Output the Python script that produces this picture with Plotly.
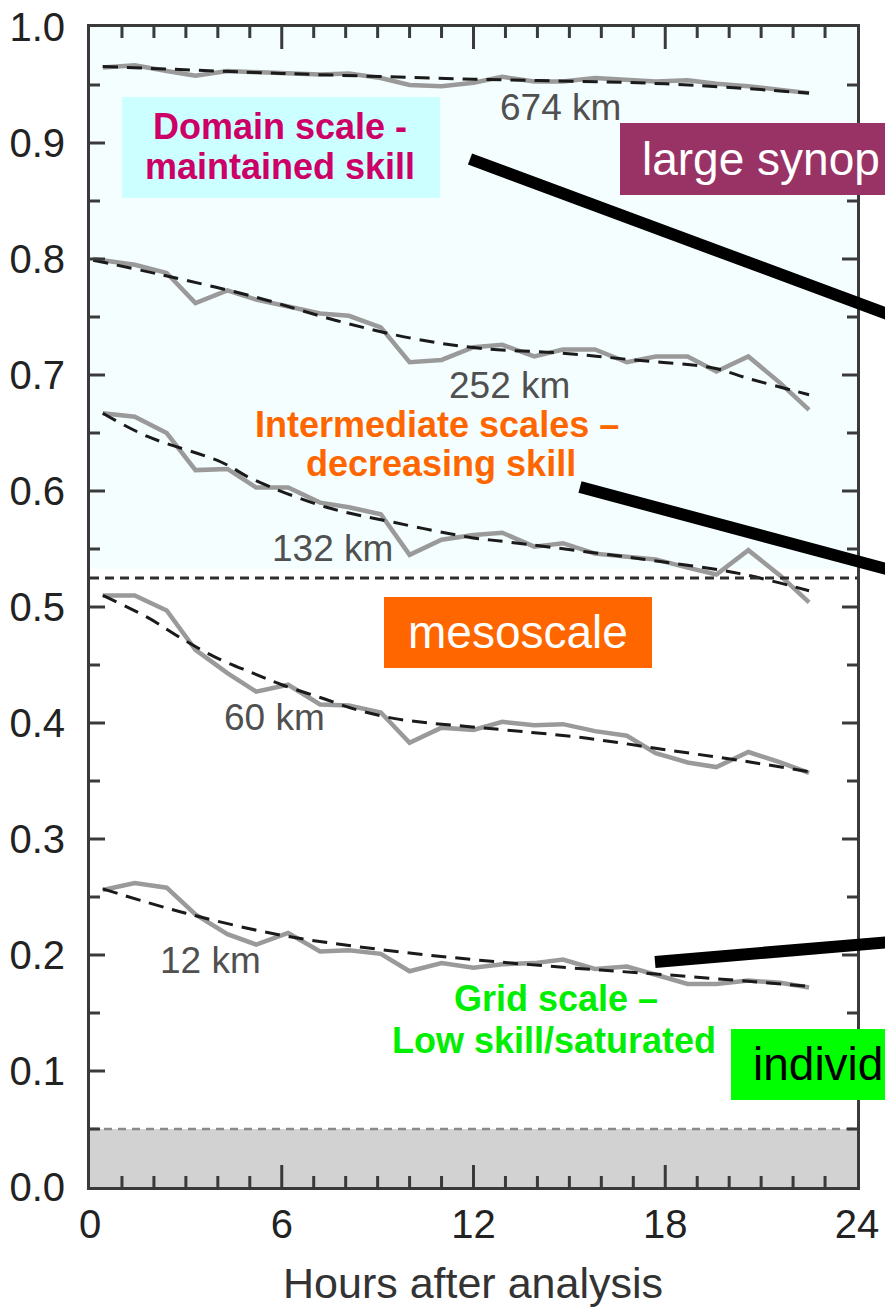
import plotly.graph_objects as go

# ---------------- data ----------------
hours = [0.4, 1.4, 2.4, 3.3, 4.3, 5.2, 6.2, 7.2, 8.1, 9.1, 10.0, 11.0,
         12.0, 12.9, 13.9, 14.8, 15.8, 16.8, 17.7, 18.7, 19.6, 20.6, 21.6, 22.5]
hours_252 = [0.1] + hours[1:]

skill_674 = [0.965, 0.967, 0.962, 0.958, 0.962, 0.961, 0.960, 0.959, 0.960, 0.956, 0.950, 0.949,
             0.952, 0.957, 0.953, 0.953, 0.956, 0.954, 0.953, 0.954, 0.951, 0.949, 0.946, 0.943]
skill_252 = [0.800, 0.795, 0.788, 0.762, 0.773, 0.765, 0.759, 0.753, 0.751, 0.741, 0.711, 0.713,
             0.724, 0.726, 0.716, 0.722, 0.722, 0.711, 0.716, 0.716, 0.703, 0.716, 0.693, 0.670]
skill_132 = [0.667, 0.664, 0.650, 0.618, 0.619, 0.603, 0.603, 0.590, 0.586, 0.580, 0.545, 0.558,
             0.562, 0.564, 0.552, 0.555, 0.546, 0.543, 0.541, 0.534, 0.528, 0.549, 0.527, 0.504]
skill_60 = [0.510, 0.510, 0.497, 0.463, 0.443, 0.427, 0.433, 0.416, 0.415, 0.409, 0.383, 0.396,
            0.394, 0.401, 0.398, 0.399, 0.393, 0.389, 0.374, 0.366, 0.362, 0.375, 0.366, 0.357]
skill_12 = [0.256, 0.262, 0.258, 0.235, 0.218, 0.209, 0.219, 0.203, 0.204, 0.201, 0.186, 0.193,
            0.189, 0.192, 0.193, 0.196, 0.188, 0.190, 0.183, 0.175, 0.175, 0.178, 0.176, 0.172]

fit_674_h = [0.4, 6, 12, 18, 22.5]
fit_674 = [0.966, 0.960, 0.955, 0.951, 0.943]
fit_252_h = [0.1, 2.3, 5.2, 7.7, 10, 12.2, 14.7, 17, 19.5, 20.6, 22.5]
fit_252 = [0.799, 0.786, 0.767, 0.747, 0.732, 0.723, 0.719, 0.713, 0.706, 0.697, 0.683]
fit_132_h = [0.4, 1.8, 4.1, 5.1, 7.4, 9.5, 11.9, 13.1, 15.7, 17.9, 20.3, 22.5]
fit_132 = [0.667, 0.647, 0.625, 0.610, 0.586, 0.573, 0.560, 0.556, 0.547, 0.539, 0.529, 0.514]
fit_60_h = [0.4, 1.8, 2.8, 3.9, 5.1, 6.0, 7.2, 8.4, 9.5, 10.6, 11.8, 13.0, 15.5, 18.0, 20.5, 22.5]
fit_60 = [0.510, 0.491, 0.474, 0.457, 0.443, 0.433, 0.422, 0.411, 0.404, 0.400, 0.397, 0.394,
          0.387, 0.377, 0.367, 0.358]
fit_12_h = [0.4, 3, 6, 9, 12, 15, 18, 22.5]
fit_12 = [0.257, 0.236, 0.217, 0.205, 0.196, 0.189, 0.183, 0.173]

scale_labels = ["674 km", "252 km", "132 km", "60 km", "12 km"]
x_ticks = [0, 6, 12, 18, 24]
x_ticklabels = ["0", "6", "12", "18", "24"]
x_minor_ticks = list(range(1, 24))
y_ticks = [0.0, 0.1, 0.2, 0.3, 0.4, 0.5, 0.6, 0.7, 0.8, 0.9, 1.0]
y_ticklabels = ["0.0", "0.1", "0.2", "0.3", "0.4", "0.5", "0.6", "0.7", "0.8", "0.9", "1.0"]
y_minor_ticks = [round(0.05 * i, 2) for i in range(1, 20)]
mesoscale_boundary = 0.525
noise_level = 0.05

# ---------------- layout helpers ----------------
W, H = 885, 1311
ML, MR, MT, MB = 90, 28, 27, 124
PW, PH = W - ML - MR, H - MT - MB
XR, YR = [0, 24], [0, 1.0]


def px(x):
    return (x - ML) / PW


def py(y):
    return (H - MB - y) / PH


FONT = "Liberation Sans, Arial, sans-serif"
AXC = "#3a3a3a"

fig = go.Figure()

solid = dict(color="#9a9a9a", width=4.5)
dashed = dict(color="#1a1a1a", width=3, dash="15px,9px")

series = [(hours, skill_674, fit_674_h, fit_674),
          (hours_252, skill_252, fit_252_h, fit_252),
          (hours, skill_132, fit_132_h, fit_132),
          (hours, skill_60, fit_60_h, fit_60),
          (hours, skill_12, fit_12_h, fit_12)]
for h, s, fh, f in series:
    fig.add_trace(go.Scatter(x=h, y=s, mode="lines", line=solid, showlegend=False, hoverinfo="skip"))
    fig.add_trace(go.Scatter(x=fh, y=f, mode="lines", line=dashed, showlegend=False,
                             hoverinfo="skip", line_shape="spline"))

# inside tick marks on all four sides, drawn on the axes' own scales
xu = (XR[1] - XR[0]) / PW  # data units per pixel
yu = (YR[1] - YR[0]) / PH
tx, ty = [], []
for v in x_minor_ticks:
    L = 22 if v in x_ticks else 11
    tx += [v, v, None, v, v, None]
    ty += [YR[0], YR[0] + L * yu, None, YR[1], YR[1] - L * yu, None]
for v in y_minor_ticks:
    L = 15 if any(abs(v - t) < 1e-9 for t in y_ticks) else 10
    tx += [XR[0], XR[0] + L * xu, None, XR[1], XR[1] - L * xu, None]
    ty += [v, v, None, v, v, None]
fig.add_trace(go.Scatter(x=tx, y=ty, mode="lines", line=dict(color=AXC, width=3), showlegend=False,
                         hoverinfo="skip", connectgaps=False))

shapes = []
shapes.append(dict(type="rect", xref="x", yref="y", x0=0, x1=24, y0=0.533, y1=1.0,
                   fillcolor="#f4fefe", line_width=0, layer="below"))
shapes.append(dict(type="rect", xref="x", yref="y", x0=0, x1=24, y0=0, y1=noise_level,
                   fillcolor="#d2d2d2", line_width=0, layer="below"))
shapes.append(dict(type="line", xref="x", yref="y", x0=0, x1=24, y0=noise_level, y1=noise_level,
                   line=dict(color="#8a8a8a", width=2.5, dash="8px,6px"), layer="below"))
shapes.append(dict(type="line", xref="x", yref="y", x0=0, x1=24, y0=mesoscale_boundary,
                   y1=mesoscale_boundary, line=dict(color="#2e2e2e", width=3, dash="9px,6px")))

# coloured label boxes
shapes.append(dict(type="rect", xref="paper", yref="paper", x0=px(122), x1=px(440), y0=py(198), y1=py(97),
                   fillcolor="#ccffff", line_width=0))
shapes.append(dict(type="rect", xref="paper", yref="paper", x0=px(620), x1=px(892), y0=py(195), y1=py(123),
                   fillcolor="#993366", line_width=0))
shapes.append(dict(type="rect", xref="paper", yref="paper", x0=px(384), x1=px(652), y0=py(668), y1=py(597),
                   fillcolor="#ff6600", line_width=0))
shapes.append(dict(type="rect", xref="paper", yref="paper", x0=px(731), x1=px(892), y0=py(1100), y1=py(1029),
                   fillcolor="#00ff00", line_width=0))

for (xa, ya, xb, yb) in [(470, 159, 890, 315), (580, 487, 890, 570), (655, 962, 890, 942)]:
    shapes.append(dict(type="line", xref="paper", yref="paper", x0=px(xa), y0=py(ya), x1=px(xb), y1=py(yb),
                       line=dict(color="#000000", width=12)))

fig.update_layout(shapes=shapes)

ann = []
for label, (lx, ly) in zip(scale_labels, [(498, 107), (447, 385), (270, 548), (222, 717), (158, 960)]):
    ann.append(dict(text=label, xref="paper", yref="paper", x=px(lx), y=py(ly), xanchor="left",
                    yanchor="middle", showarrow=False, font=dict(family=FONT, size=37, color="#505050")))


def txt(t, x, y, color, size, bold=False, anchor="center"):
    if bold:
        t = "<b>" + t + "</b>"
    ann.append(dict(text=t, xref="paper", yref="paper", x=px(x), y=py(y), xanchor=anchor,
                    yanchor="middle", showarrow=False, font=dict(family=FONT, size=size, color=color)))


txt("Domain scale -", 280, 127, "#cc0066", 36, True)
txt("maintained skill", 280, 166, "#cc0066", 36, True)
txt("Intermediate scales –", 437, 424, "#ff6600", 36, True)
txt("decreasing skill", 441, 464, "#ff6600", 36, True)
txt("Grid scale –", 556, 998, "#00ee00", 36, True)
txt("Low skill/saturated", 554, 1040, "#00ee00", 36, True)
txt("large synop", 640, 159, "#ffffff", 46, False, "left")
txt("mesoscale", 518, 632, "#ffffff", 46, False)
txt("individ", 751, 1064, "#000000", 46, False, "left")
txt("Hours after analysis", 473, 1283, "#333333", 43, False)

fig.update_layout(annotations=ann)

axis_common = dict(showgrid=False, zeroline=False, showline=True, linecolor=AXC, linewidth=3,
                   mirror=True, ticks="", automargin=False,
                   tickfont=dict(family=FONT, size=40, color="#222222"))

fig.update_xaxes(range=XR, tickmode="array", tickvals=x_ticks, ticktext=x_ticklabels, **axis_common)
fig.update_yaxes(range=YR, tickmode="array", tickvals=y_ticks, ticktext=y_ticklabels,
                 ticklabelstandoff=14, **axis_common)

fig.update_layout(width=W, height=H, margin=dict(l=ML, r=MR, t=MT, b=MB, pad=0, autoexpand=False),
                  paper_bgcolor="#ffffff", plot_bgcolor="#ffffff", showlegend=False)

fig.write_html("out.html")
